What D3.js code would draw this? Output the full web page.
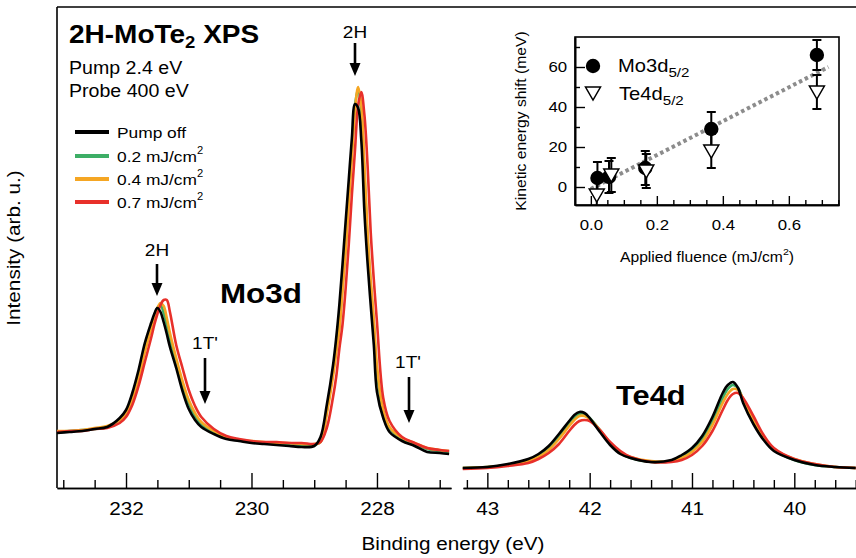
<!DOCTYPE html>
<html><head><meta charset="utf-8">
<script src="https://cdn.jsdelivr.net/npm/d3@7"></script>
<style>
body{margin:0;background:#fff}
svg{display:block}
text{font-family:"Liberation Sans",Arial,Helvetica,sans-serif;fill:#000}
</style>
</head><body>
<svg id="chart" width="856" height="558"></svg>
<script>
// ---------------- DATA ----------------
// Mo3d region: binding energy (eV) and intensity (arb. u.)
const moEnergy = [233.1,232.9,232.7,232.5,232.3,232.1,232.0,231.9,231.8,231.7,231.6,231.55,231.5,231.45,231.4,231.35,231.3,231.2,231.1,231.0,230.9,230.8,230.6,230.4,230.2,230.0,229.8,229.6,229.4,229.2,229.0,228.9,228.8,228.7,228.65,228.6,228.55,228.5,228.45,228.4,228.35,228.3,228.25,228.2,228.15,228.1,228.05,228.0,227.9,227.8,227.6,227.4,227.2,227.0,226.85];
const moPumpOff = [55,56,57,59,61,70,78,95,118,145,165,174,180,176,166,154,141,120,97,79,68,61,54,49,47,45,44,43,42,41,42,51,83,123,150,183,223,266,308,350,384,380,348,276,225,183,143,96,70,56,47,42,36,35,34];
const moF02 = [56,57,58,59,61,68,75,90,112,139,161,172,180,183,175,163,149,126,103,85,72,64,56,51,48,46,45,44,44,43,43,46,77,116,140,163,203,243,293,338,383,399,376,313,248,203,163,116,76,60,49,44,39,37,36];
const moF04 = [57,57,58,60,62,68,75,89,109,136,159,171,180,185,182,170,155,130,107,88,75,66,57,51,48,47,46,45,45,44,44,46,74,112,135,158,196,236,283,330,378,401,383,323,256,208,168,122,78,61,50,45,40,38,37];
const moF07 = [56,57,57,59,60,65,71,83,102,126,150,163,174,183,188,188,176,143,120,98,82,71,59,52,49,47,46,46,45,45,44,46,60,91,111,139,163,199,243,293,338,383,396,373,323,256,208,166,90,67,51,45,40,38,37];

// Te4d region
const teEnergy = [43.24,43.0,42.8,42.6,42.5,42.4,42.3,42.2,42.15,42.1,42.05,42.0,41.9,41.8,41.7,41.6,41.4,41.2,41.1,41.0,40.9,40.8,40.7,40.65,40.6,40.55,40.5,40.4,40.3,40.2,40.0,39.8,39.6,39.4];
const tePumpOff = [20,21,24,29,34,42,54,67,73,76,75,70,56,43,34,30,26,28,33,40,52,71,95,103,106,100,85,64,48,37,28,23,21,20];
const teF02 = [20,21,23,28,32,39,51,64,70,74,74,70,58,45,35,30,26,27,31,38,49,67,90,99,103,100,88,67,50,38,28,23,21,20];
const teF04 = [20,21,23,27,31,38,49,62,68,72,72,69,58,45,36,31,27,27,30,36,46,63,85,94,99,98,89,68,51,39,29,24,21,20];
const teF07 = [19,20,22,25,29,35,44,57,63,67,68,67,58,46,37,31,26,26,28,33,42,57,78,88,94,95,90,72,53,40,29,24,21,20];

const seriesLabels = ["Pump off", "0.2 mJ/cm", "0.4 mJ/cm", "0.7 mJ/cm"];
const moTickMajor = [232, 230, 228];
const teTickMajor = [43, 42, 41, 40];

// Inset: kinetic energy shift vs fluence
const moFluence = [0.02, 0.055, 0.165, 0.365, 0.685];
const moShift   = [4.5, 5, 9.5, 29, 66];
const moErr     = [8, 8, 8.5, 8.5, 7.5];
const teFluence = [0.018, 0.062, 0.168, 0.365, 0.685];
const teShift   = [-4, 6, 8, 18, 47.5];
const teErr     = [8, 8.5, 8.5, 8.5, 8.5];
const fitFluence = [0, 0.72];
const fitShift   = [-1, 60];
const insetXTicks = [0, 0.2, 0.4, 0.6];
const insetYTicks = [0, 20, 40, 60];

// ---------------- STYLE ----------------
const colors = ["#000000", "#3dae66", "#f5a623", "#e8302a"];
const drawOrder = [1, 2, 3, 0];
const SX = 1.12;

const svg = d3.select("#chart");

function label(parent, x, y, parts, o = {}) {
  const g = parent.append("g")
    .attr("transform", `translate(${x},${y})${o.rotate ? ` rotate(${o.rotate})` : ""} scale(${SX},1)`);
  const t = g.append("text")
    .attr("text-anchor", o.anchor || "start")
    .style("font-size", o.size + "px")
    .style("font-weight", o.weight || "normal");
  let cur = 0;
  parts.forEach(p => {
    if (typeof p === "string") p = { t: p };
    const shift = p.shift || 0;
    const ts = t.append("tspan").text(p.t).attr("dy", shift - cur);
    if (p.size) ts.style("font-size", p.size + "px");
    cur = shift;
  });
  return g;
}

// ---------------- SCALES ----------------
const xMo = d3.scaleLinear().domain([233.1, 226.82]).range([57, 451]);
const xTe = d3.scaleLinear().domain([43.238, 39.397]).range([463, 856]);
const y = d3.scaleLinear().domain([0, 480]).range([488, 8]);

// ---------------- FRAME ----------------
svg.append("line").attr("x1", 57).attr("x2", 856).attr("y1", 7).attr("y2", 7)
  .attr("stroke", "#000").attr("stroke-width", 1.6);
svg.append("line").attr("x1", 57).attr("x2", 57).attr("y1", 7).attr("y2", 488)
  .attr("stroke", "#000").attr("stroke-width", 1.6);

function styleAxis(g, fs) {
  g.attr("font-family", null).attr("font-size", null);
  g.select(".domain").attr("stroke-width", 1.6);
  g.selectAll(".tick line").attr("stroke-width", 1.4);
  g.selectAll("text").attr("transform", `scale(${SX},1)`).style("font-size", fs + "px");
}

// Mo axis
const moMinor = d3.range(233.0, 226.9, -0.5).filter(v => !moTickMajor.some(m => Math.abs(m - v) < 1e-6));
const gMoMinor = svg.append("g").attr("transform", "translate(0,488)")
  .call(d3.axisBottom(xMo).tickValues(moMinor).tickSize(-8).tickSizeOuter(0).tickFormat(""));
styleAxis(gMoMinor, 18.5);
const gMo = svg.append("g").attr("transform", "translate(0,488)")
  .call(d3.axisBottom(xMo).tickValues(moTickMajor).tickSize(-15).tickSizeOuter(0).tickPadding(14).tickFormat(d3.format("d")));
styleAxis(gMo, 18.5);

// Te axis
const teMinor = d3.range(43.2, 39.39, -0.2).filter(v => !teTickMajor.some(m => Math.abs(m - v) < 1e-6));
const gTeMinor = svg.append("g").attr("transform", "translate(0,488)")
  .call(d3.axisBottom(xTe).tickValues(teMinor).tickSize(-8).tickSizeOuter(0).tickFormat(""));
styleAxis(gTeMinor, 18.5);
const gTe = svg.append("g").attr("transform", "translate(0,488)")
  .call(d3.axisBottom(xTe).tickValues(teTickMajor).tickSize(-15).tickSizeOuter(0).tickPadding(14).tickFormat(d3.format("d")));
styleAxis(gTe, 18.5);

// ---------------- SPECTRA ----------------
const moSeries = [moPumpOff, moF02, moF04, moF07];
const teSeries = [tePumpOff, teF02, teF04, teF07];
const curve = d3.curveCatmullRom.alpha(0.5);
const lineMo = d3.line().x(d => xMo(d[0])).y(d => y(d[1])).curve(curve);
const lineTe = d3.line().x(d => xTe(d[0])).y(d => y(d[1])).curve(curve);

drawOrder.forEach(i => {
  svg.append("path").datum(moEnergy.map((e, k) => [e, moSeries[i][k]]))
    .attr("d", lineMo).attr("fill", "none").attr("stroke", colors[i])
    .attr("stroke-width", 2.6).attr("stroke-linejoin", "round");
  svg.append("path").datum(teEnergy.map((e, k) => [e, teSeries[i][k]]))
    .attr("d", lineTe).attr("fill", "none").attr("stroke", colors[i])
    .attr("stroke-width", 2.6).attr("stroke-linejoin", "round");
});

// ---------------- ANNOTATIONS ----------------
function arrow(x, y1, y2) {
  const head = 13, hw = 5.5;
  svg.append("line").attr("x1", x).attr("x2", x).attr("y1", y1).attr("y2", y2 - head + 1)
    .attr("stroke", "#000").attr("stroke-width", 2.6);
  svg.append("path").attr("d", `M${x - hw},${y2 - head}L${x + hw},${y2 - head}L${x},${y2}Z`).attr("fill", "#000");
}
label(svg, 157, 256, ["2H"], { size: 17, anchor: "middle" });
arrow(157, 264, 296);
label(svg, 205, 349, ["1T'"], { size: 17, anchor: "middle" });
arrow(205, 358, 404);
label(svg, 355, 38, ["2H"], { size: 17, anchor: "middle" });
arrow(355, 43, 76);
label(svg, 408, 368, ["1T'"], { size: 17, anchor: "middle" });
arrow(409, 377, 423);

label(svg, 220, 303, ["Mo3d"], { size: 28, weight: "bold" });
label(svg, 616, 405, ["Te4d"], { size: 27.5, weight: "bold" });

// Title block
label(svg, 69, 43, ["2H-MoTe", { t: "2", size: 16.5, shift: 5 }, { t: " XPS", shift: 0 }], { size: 25, weight: "bold" });
label(svg, 69, 74, ["Pump 2.4 eV"], { size: 17.5 });
label(svg, 69, 97, ["Probe 400 eV"], { size: 17.5 });

// Legend
const legY = [132, 156, 179, 202];
seriesLabels.forEach((s, i) => {
  svg.append("line").attr("x1", 75).attr("x2", 109).attr("y1", legY[i]).attr("y2", legY[i])
    .attr("stroke", colors[i]).attr("stroke-width", 4);
  const parts = i === 0 ? [s] : [s, { t: "2", size: 10, shift: -8 }];
  label(svg, 117, legY[i] + 5.5, parts, { size: 15.5 });
});

// Axis titles
label(svg, 453, 550, ["Binding energy (eV)"], { size: 18.5, anchor: "middle" });
label(svg, 20, 248, ["Intensity (arb. u.)"], { size: 18.5, anchor: "middle", rotate: -90 });

// ---------------- INSET ----------------
const ix = d3.scaleLinear().domain([-0.048, 0.752]).range([575, 839]);
const iy = d3.scaleLinear().domain([-9, 75]).range([205, 37]);
const inset = svg.append("g");
inset.append("defs").append("clipPath").attr("id", "insetClip")
  .append("rect").attr("x", 575).attr("y", 37).attr("width", 264).attr("height", 168);

const ixMinor = d3.range(-0.0, 0.751, 0.05).filter(v => !insetXTicks.some(m => Math.abs(m - v) < 1e-6));
const iyMinor = [10, 30, 50, 70];
const gIxMinor = inset.append("g").attr("transform", "translate(0,205)")
  .call(d3.axisBottom(ix).tickValues(ixMinor).tickSize(-5).tickSizeOuter(0).tickFormat(""));
styleAxis(gIxMinor, 15);
const gIx = inset.append("g").attr("transform", "translate(0,205)")
  .call(d3.axisBottom(ix).tickValues(insetXTicks).tickSize(-9).tickSizeOuter(0).tickPadding(14).tickFormat(d3.format(".1f")));
styleAxis(gIx, 15);
const gIyMinor = inset.append("g").attr("transform", "translate(575,0)")
  .call(d3.axisLeft(iy).tickValues(iyMinor).tickSize(-5).tickSizeOuter(0).tickFormat(""));
styleAxis(gIyMinor, 15);
const gIy = inset.append("g").attr("transform", "translate(575,0)")
  .call(d3.axisLeft(iy).tickValues(insetYTicks).tickSize(-10).tickSizeOuter(0).tickPadding(7).tickFormat(d3.format("d")));
styleAxis(gIy, 15);

inset.append("rect").attr("x", 575).attr("y", 37).attr("width", 264).attr("height", 168)
  .attr("fill", "none").attr("stroke", "#000").attr("stroke-width", 1.6);

const plotG = inset.append("g").attr("clip-path", "url(#insetClip)");
// fit line
plotG.append("path").datum(fitFluence.map((f, i) => [f, fitShift[i]]))
  .attr("d", d3.line().x(d => ix(d[0])).y(d => iy(d[1])))
  .attr("stroke", "#8c8c8c").attr("stroke-width", 4).attr("stroke-dasharray", "3.5,3").attr("fill", "none");

function errBars(fl, vals, errs) {
  fl.forEach((f, i) => {
    const cx = ix(f), yt = iy(vals[i] + errs[i]), yb = iy(vals[i] - errs[i]);
    plotG.append("line").attr("x1", cx).attr("x2", cx).attr("y1", yt).attr("y2", yb)
      .attr("stroke", "#000").attr("stroke-width", 2);
    [yt, yb].forEach(yy => plotG.append("line").attr("x1", cx - 4.5).attr("x2", cx + 4.5)
      .attr("y1", yy).attr("y2", yy).attr("stroke", "#000").attr("stroke-width", 2));
  });
}
errBars(moFluence, moShift, moErr);
errBars(teFluence, teShift, teErr);

const tri = (cx, cy) => `M${cx - 7.5},${cy - 6}L${cx + 7.5},${cy - 6}L${cx},${cy + 7}Z`;
moFluence.forEach((f, i) => {
  plotG.append("circle").attr("cx", ix(f)).attr("cy", iy(moShift[i])).attr("r", 7.2).attr("fill", "#000");
});
teFluence.forEach((f, i) => {
  plotG.append("path").attr("d", tri(ix(f), iy(teShift[i])))
    .attr("fill", "#fff").attr("stroke", "#000").attr("stroke-width", 1.5);
});

// inset legend
inset.append("circle").attr("cx", 593).attr("cy", 66).attr("r", 7.2).attr("fill", "#000");
inset.append("path").attr("d", tri(593, 93)).attr("fill", "#fff").attr("stroke", "#000").attr("stroke-width", 1.5);
label(inset, 618, 72, ["Mo3d", { t: "5/2", size: 13.5, shift: 5 }], { size: 18 });
label(inset, 619, 100, ["Te4d", { t: "5/2", size: 13.5, shift: 5 }], { size: 18 });

// inset axis titles
label(inset, 707, 262, ["Applied fluence (mJ/cm", { t: "2", size: 9.5, shift: -7 }, { t: ")", shift: 0 }], { size: 14, anchor: "middle" });
label(inset, 526, 121, ["Kinetic energy shift (meV)"], { size: 14, anchor: "middle", rotate: -90 });
</script>
</body></html>
